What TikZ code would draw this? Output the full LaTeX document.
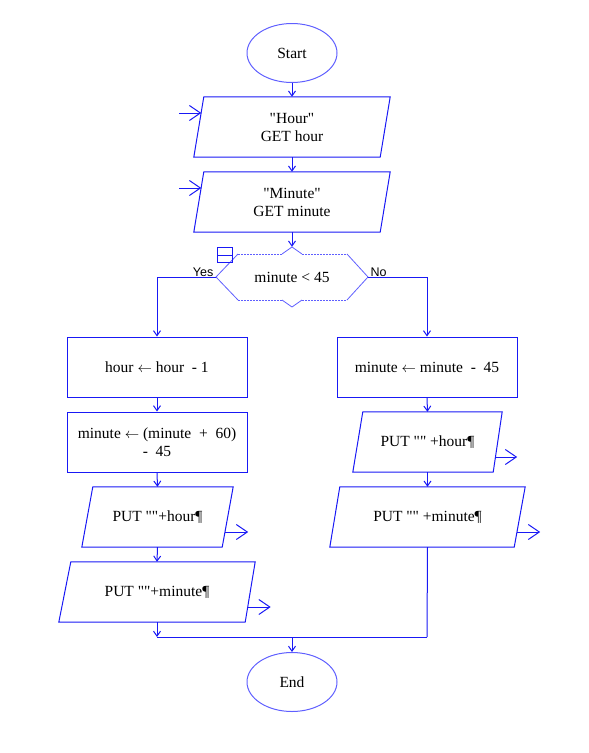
\documentclass[tikz,border=0pt]{standalone}
\usepackage{fontspec}
\setmainfont{Liberation Serif}[Ligatures=TeXOff]
\newfontfamily\sansf{Liberation Sans}
\usetikzlibrary{arrows.meta,calc,shapes.geometric}
\definecolor{fc}{RGB}{25,25,245}
\definecolor{dc}{RGB}{95,95,255}
\newcommand\lar{\ensuremath{\leftarrow}}
\begin{document}
\begin{tikzpicture}[x=1pt,y=-1pt,
  txt/.style={font=\fontsize{15.5}{18}\selectfont, align=center, inner sep=0pt, text=black},
  flow/.style={draw=fc, line width=1pt, -{Straight Barb[length=5pt,width=7pt]}},
  plainline/.style={draw=fc, line width=1pt},
  ioarrow/.style={draw=fc, line width=1pt, -{Straight Barb[length=11pt,width=15pt]}},
  term/.style={ellipse, draw=dc, line width=1pt, minimum width=90pt, minimum height=59pt, txt},
  proc/.style={rectangle, draw=fc, line width=1pt, minimum width=180pt, minimum height=60pt, txt},
  iobox/.style={rectangle, minimum height=60pt, txt},
  declines/.style={draw=dc, line width=0.8pt},
  decdots/.style={draw=dc, line width=0.8pt, dash pattern=on 1.5pt off 1.5pt},
  lbl/.style={font=\sansf\fontsize{12.5}{14}\selectfont, inner sep=0pt, text=black}
]
\useasboundingbox (0,0) rectangle (589,753);

% terminals
\node[term] (start) at (292,53) {Start};
\node[term] (end) at (292,682) {End};

% input boxes
\node[iobox, minimum width=196pt] (hour) at (292,127) {"Hour"\\GET hour};
\draw[plainline] ([xshift=10pt]hour.north west) -- (hour.north east) -- ([xshift=-10pt]hour.south east) -- (hour.south west) -- cycle;
\node[iobox, minimum width=196pt] (minute) at (292,202) {"Minute"\\GET minute};
\draw[plainline] ([xshift=10pt]minute.north west) -- (minute.north east) -- ([xshift=-10pt]minute.south east) -- (minute.south west) -- cycle;

\draw[ioarrow] ([shift={(-14.5,-14)}]hour.west) -- ([shift={(7.5,-14)}]hour.west);
\draw[ioarrow] ([shift={(-14.5,-14)}]minute.west) -- ([shift={(7.5,-14)}]minute.west);

% decision
\node[txt, minimum width=152pt, minimum height=60pt] (dec) at (292,277) {minute < 45};
\draw[declines] (216,277) -- (238,254) (216,277) -- (238,300)
  (368,277) -- (347,254) (368,277) -- (347,300)
  (282,254) -- (292,247) -- (302,254)
  (282,300) -- (292,307) -- (302,300);
\draw[decdots] (238,254) -- (282,254) (302,254) -- (347,254)
  (238,300) -- (282,300) (302,300) -- (347,300);
\draw[plainline] (217,247) rectangle (232,262) (217,255) -- (232,255);
\node[lbl, anchor=base east] (yes) at (213.5,276) {Yes};
\node[lbl, anchor=base west] (no) at (370.5,276) {No};

% left branch
\node[proc] (b1) at (157,367) {hour \lar{} hour~ - 1};
\node[proc] (b2) at (157,442) {minute \lar{} (minute~ + ~60)\\- ~45};
\node[iobox, minimum width=151pt] (put1L) at (157.5,517) {PUT ""+hour¶};
\draw[plainline] ([xshift=11pt]put1L.north west) -- (put1L.north east) -- ([xshift=-11pt]put1L.south east) -- (put1L.south west) -- cycle;
\node[iobox, minimum width=196pt] (put2L) at (157,592) {PUT ""+minute¶};
\draw[plainline] ([xshift=12pt]put2L.north west) -- (put2L.north east) -- ([xshift=-10pt]put2L.south east) -- (put2L.south west) -- cycle;
\draw[ioarrow] ([shift={(-8,15)}]put1L.east) -- ++(23pt,0);
\draw[ioarrow] ([shift={(-7.5,15)}]put2L.east) -- ++(23pt,0);

% right branch
\node[proc] (b3) at (427,367) {minute \lar{} minute~ - ~45};
\node[iobox, minimum width=149pt] (put1R) at (427.5,442) {PUT "" +hour¶};
\draw[plainline] ([xshift=10pt]put1R.north west) -- (put1R.north east) -- ([xshift=-9pt]put1R.south east) -- (put1R.south west) -- cycle;
\node[iobox, minimum width=195pt] (put2R) at (427.5,517) {PUT "" +minute¶};
\draw[plainline] ([xshift=10pt]put2R.north west) -- (put2R.north east) -- ([xshift=-11pt]put2R.south east) -- (put2R.south west) -- cycle;
\draw[ioarrow] ([shift={(-7,15)}]put1R.east) -- ++(22pt,0);
\draw[ioarrow] ([shift={(-8,15)}]put2R.east) -- ++(23pt,0);

% merge
\coordinate (mL) at (157,637);
\coordinate (mR) at (427,637);
\coordinate (m) at (292,637);

% connectors
\draw[flow] (start.south) -- (hour.north);
\draw[flow] (hour.south) -- (minute.north);
\draw[flow] (minute.south) -- (dec.north);
\draw[flow] (216,277) -| (b1.north);
\draw[flow] (368,277) -| (b3.north);
\draw[flow] (b1.south) -- (b2.north);
\draw[flow] (b2.south) -- (put1L.north);
\draw[flow] (put1L.south) -- (put2L.north);
\draw[flow] (b3.south) -- (put1R.north);
\draw[flow] (put1R.south) -- (put2R.north);
\draw[flow] (put2L.south) -- (mL);
\draw[plainline] (put2R.south) -- (mR);
\draw[plainline] (mL) -- (mR);
\draw[flow] (m) -- (end.north);
\end{tikzpicture}
\end{document}
